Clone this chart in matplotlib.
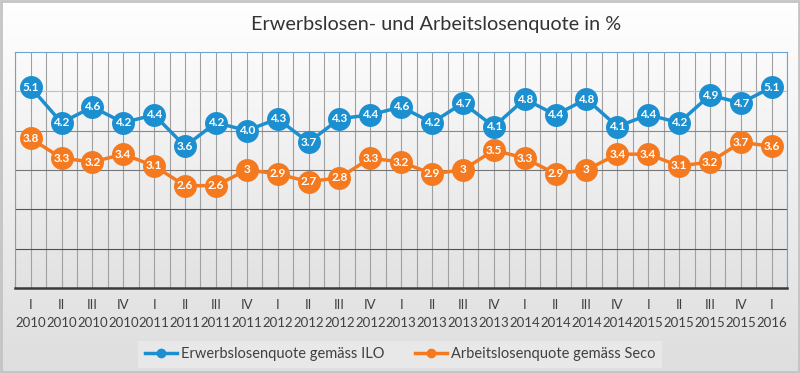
import matplotlib.pyplot as plt
import numpy as np
from matplotlib.colors import LinearSegmentedColormap
from matplotlib.lines import Line2D
from matplotlib.patches import Rectangle

quarters = ["I", "II", "III", "IV"] * 6 + ["I"]
years = [str(y) for y in range(2010, 2016) for _ in range(4)] + ["2016"]
ilo = [5.1, 4.2, 4.6, 4.2, 4.4, 3.6, 4.2, 4.0, 4.3, 3.7, 4.3, 4.4, 4.6,
       4.2, 4.7, 4.1, 4.8, 4.4, 4.8, 4.1, 4.4, 4.2, 4.9, 4.7, 5.1]
ilo_labels = ["5.1", "4.2", "4.6", "4.2", "4.4", "3.6", "4.2", "4.0", "4.3", "3.7",
              "4.3", "4.4", "4.6", "4.2", "4.7", "4.1", "4.8", "4.4", "4.8", "4.1",
              "4.4", "4.2", "4.9", "4.7", "5.1"]
seco = [3.8, 3.3, 3.2, 3.4, 3.1, 2.6, 2.6, 3, 2.9, 2.7, 2.8, 3.3, 3.2,
        2.9, 3, 3.5, 3.3, 2.9, 3, 3.4, 3.4, 3.1, 3.2, 3.7, 3.6]
seco_labels = ["3.8", "3.3", "3.2", "3.4", "3.1", "2.6", "2.6", "3", "2.9", "2.7",
               "2.8", "3.3", "3.2", "2.9", "3", "3.5", "3.3", "2.9", "3", "3.4",
               "3.4", "3.1", "3.2", "3.7", "3.6"]

BLUE = "#1c8fd0"
ORANGE = "#f57a1f"
FONT = "Lato"

fig = plt.figure(figsize=(8, 3.73), dpi=100)

# figure background gradient
bg = fig.add_axes([0, 0, 1, 1], zorder=-10)
grad = np.linspace(0, 1, 256).reshape(-1, 1)
bg.imshow(grad, aspect="auto", cmap=LinearSegmentedColormap.from_list(
    "bg", ["#ffffff", "#dedede"]), extent=[0, 1, 0, 1], origin="upper")
bg.add_patch(Rectangle((0.001, 0.002), 0.998, 0.995, fill=False, ec="#c4c4c4", lw=2,
                       transform=bg.transAxes))
bg.set_axis_off()

ax = fig.add_axes([0.019, 0.228, 0.965, 0.633])
x = np.arange(len(ilo))
ax.set_xlim(-0.5, len(ilo) - 0.5)
ax.set_ylim(0, 6)

# plot area gradient
ax.imshow(grad, aspect="auto", cmap=LinearSegmentedColormap.from_list(
    "pa", ["#fbfbfb", "#e2e2e2"]), extent=[-0.5, len(ilo) - 0.5, 0, 6], origin="upper", zorder=0)

for v in np.arange(-0.5, len(ilo), 0.5):
    ax.axvline(v, color="#a0a0a0", lw=0.8, zorder=1)
for g in range(1, 6):
    ax.axhline(g, color=["#505050", "#555555", "#777777", "#8a8a8a", "#c0c0c0"][g - 1],
               lw=0.8, zorder=1)

ax.plot(x, ilo, color=BLUE, lw=2.5, marker="o", ms=15.5, zorder=3)
ax.plot(x, seco, color=ORANGE, lw=2.5, marker="o", ms=15.5, zorder=3)
for xi, v, t in zip(x, ilo, ilo_labels):
    ax.text(xi, v, t, ha="center", va="center", color="white", fontsize=8.5,
            fontweight="bold", family=FONT, zorder=4)
for xi, v, t in zip(x, seco, seco_labels):
    ax.text(xi, v, t, ha="center", va="center", color="white", fontsize=8.5,
            fontweight="bold", family=FONT, zorder=4)

for s in ["top", "left", "right"]:
    ax.spines[s].set_color("#6aa6cf")
    ax.spines[s].set_linewidth(0.8)
ax.spines["bottom"].set_color("#3a3a3a")
ax.spines["bottom"].set_linewidth(1.8)
ax.set_yticks([])
ax.set_xticks(x)
ax.set_xticklabels([f"{q}\n{y}" for q, y in zip(quarters, years)], family=FONT,
                   fontsize=9.5, color="#404040", linespacing=1.6)
ax.tick_params(axis="x", length=0, pad=8)

fig.text(0.545, 0.933, "Erwerbslosen- und Arbeitslosenquote in %", ha="center", va="center",
         fontsize=14.3, color="#333333", family=FONT)

handles = [Line2D([], [], color=BLUE, lw=2.5, marker="o", ms=6),
           Line2D([], [], color=ORANGE, lw=2.5, marker="o", ms=6)]
leg = fig.legend(handles, ["Erwerbslosenquote gemäss ILO", "Arbeitslosenquote gemäss Seco"],
                 loc="center", bbox_to_anchor=(0.5, 0.05), ncol=2, frameon=True,
                 prop={"family": FONT, "size": 10.5}, handlelength=2.2, handletextpad=0.25,
                 columnspacing=2.1, borderpad=0.45, borderaxespad=0, fancybox=False)
leg.get_frame().set_facecolor("#ebebeb")
leg.get_frame().set_edgecolor("none")
for t in leg.get_texts():
    t.set_color("#404040")

fig.savefig("out.png", dpi=100)
